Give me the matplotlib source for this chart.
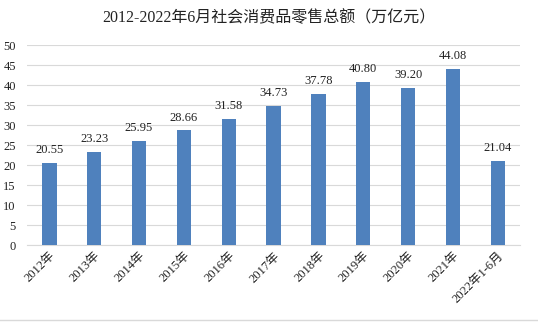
import matplotlib.pyplot as plt

years = ["2012年", "2013年", "2014年", "2015年", "2016年", "2017年",
         "2018年", "2019年", "2020年", "2021年", "2022年1-6月"]
sales = [20.55, 23.23, 25.95, 28.66, 31.58, 34.73, 37.78, 40.80, 39.20, 44.08, 21.04]

plt.rcParams["font.family"] = ["Liberation Serif", "Noto Sans CJK SC"]

fig = plt.figure(figsize=(5.38, 3.22), dpi=100)
ax = fig.add_axes([0.050, 0.239, 0.917, 0.621])

x = range(len(years))
ax.bar(x, sales, width=0.32, color="#4F81BD", zorder=3)
for i, v in zip(x, sales):
    ax.text(i, v + 1.7, "%.2f" % v, ha="center", va="bottom", fontsize=9, color="#222222")

ax.set_xlim(-0.5, len(years) - 0.5)
ax.set_ylim(0, 50)
ax.set_yticks(range(0, 51, 5))
ax.grid(axis="y", color="#d9d9d9", linewidth=0.8, zorder=0)
for s in ["top", "right", "left"]:
    ax.spines[s].set_visible(False)
ax.spines["bottom"].set_color("#d9d9d9")
ax.tick_params(axis="both", length=0, labelsize=9, colors="#222222")
ax.tick_params(axis="y", pad=8)
ax.set_xticks(list(x))
ax.set_xticklabels(years, rotation=45, ha="right", rotation_mode="anchor")

fig.text(0.5, 0.945, "2012-2022年6月社会消费品零售总额（万亿元）", ha="center", va="center",
         fontsize=11.5, color="#222222")
fig.add_artist(plt.Line2D([0, 1], [0.006, 0.006], color="#d9d9d9", linewidth=1))

plt.savefig("out.png", dpi=100)
